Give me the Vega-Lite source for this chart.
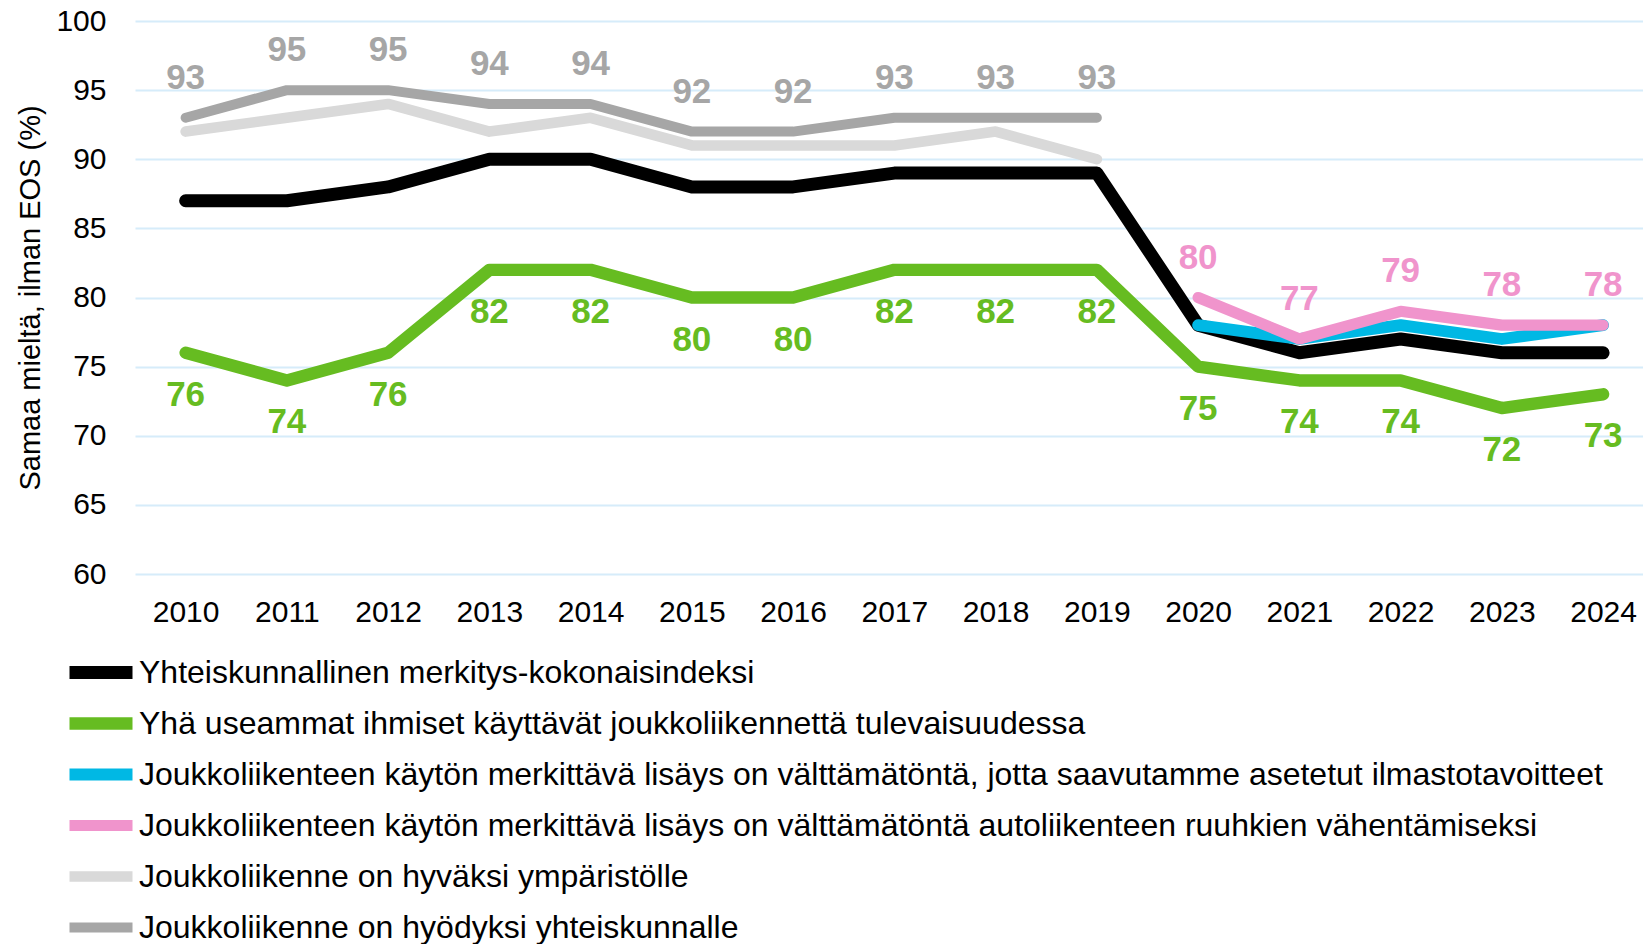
{
  "$schema": "https://vega.github.io/schema/vega-lite/v6.json",
  "width": 1508,
  "height": 553,
  "autosize": {"type": "none"},
  "padding": {"left": 135, "top": 21, "right": 0, "bottom": 370},
  "background": "white",
  "config": {
    "font": "Liberation Sans",
    "view": {"stroke": null}
  },
  "data": {
    "values": [
      {"s": "Yhteiskunnallinen merkitys-kokonaisindeksi", "year": 2010, "v": 87},
      {"s": "Yhteiskunnallinen merkitys-kokonaisindeksi", "year": 2011, "v": 87},
      {"s": "Yhteiskunnallinen merkitys-kokonaisindeksi", "year": 2012, "v": 88},
      {"s": "Yhteiskunnallinen merkitys-kokonaisindeksi", "year": 2013, "v": 90},
      {"s": "Yhteiskunnallinen merkitys-kokonaisindeksi", "year": 2014, "v": 90},
      {"s": "Yhteiskunnallinen merkitys-kokonaisindeksi", "year": 2015, "v": 88},
      {"s": "Yhteiskunnallinen merkitys-kokonaisindeksi", "year": 2016, "v": 88},
      {"s": "Yhteiskunnallinen merkitys-kokonaisindeksi", "year": 2017, "v": 89},
      {"s": "Yhteiskunnallinen merkitys-kokonaisindeksi", "year": 2018, "v": 89},
      {"s": "Yhteiskunnallinen merkitys-kokonaisindeksi", "year": 2019, "v": 89},
      {"s": "Yhteiskunnallinen merkitys-kokonaisindeksi", "year": 2020, "v": 78},
      {"s": "Yhteiskunnallinen merkitys-kokonaisindeksi", "year": 2021, "v": 76},
      {"s": "Yhteiskunnallinen merkitys-kokonaisindeksi", "year": 2022, "v": 77},
      {"s": "Yhteiskunnallinen merkitys-kokonaisindeksi", "year": 2023, "v": 76},
      {"s": "Yhteiskunnallinen merkitys-kokonaisindeksi", "year": 2024, "v": 76},
      {"s": "Yhä useammat ihmiset käyttävät joukkoliikennettä tulevaisuudessa", "year": 2010, "v": 76},
      {"s": "Yhä useammat ihmiset käyttävät joukkoliikennettä tulevaisuudessa", "year": 2011, "v": 74},
      {"s": "Yhä useammat ihmiset käyttävät joukkoliikennettä tulevaisuudessa", "year": 2012, "v": 76},
      {"s": "Yhä useammat ihmiset käyttävät joukkoliikennettä tulevaisuudessa", "year": 2013, "v": 82},
      {"s": "Yhä useammat ihmiset käyttävät joukkoliikennettä tulevaisuudessa", "year": 2014, "v": 82},
      {"s": "Yhä useammat ihmiset käyttävät joukkoliikennettä tulevaisuudessa", "year": 2015, "v": 80},
      {"s": "Yhä useammat ihmiset käyttävät joukkoliikennettä tulevaisuudessa", "year": 2016, "v": 80},
      {"s": "Yhä useammat ihmiset käyttävät joukkoliikennettä tulevaisuudessa", "year": 2017, "v": 82},
      {"s": "Yhä useammat ihmiset käyttävät joukkoliikennettä tulevaisuudessa", "year": 2018, "v": 82},
      {"s": "Yhä useammat ihmiset käyttävät joukkoliikennettä tulevaisuudessa", "year": 2019, "v": 82},
      {"s": "Yhä useammat ihmiset käyttävät joukkoliikennettä tulevaisuudessa", "year": 2020, "v": 75},
      {"s": "Yhä useammat ihmiset käyttävät joukkoliikennettä tulevaisuudessa", "year": 2021, "v": 74},
      {"s": "Yhä useammat ihmiset käyttävät joukkoliikennettä tulevaisuudessa", "year": 2022, "v": 74},
      {"s": "Yhä useammat ihmiset käyttävät joukkoliikennettä tulevaisuudessa", "year": 2023, "v": 72},
      {"s": "Yhä useammat ihmiset käyttävät joukkoliikennettä tulevaisuudessa", "year": 2024, "v": 73},
      {"s": "Joukkoliikenteen käytön merkittävä lisäys on välttämätöntä, jotta saavutamme asetetut ilmastotavoitteet", "year": 2020, "v": 78},
      {"s": "Joukkoliikenteen käytön merkittävä lisäys on välttämätöntä, jotta saavutamme asetetut ilmastotavoitteet", "year": 2021, "v": 77},
      {"s": "Joukkoliikenteen käytön merkittävä lisäys on välttämätöntä, jotta saavutamme asetetut ilmastotavoitteet", "year": 2022, "v": 78},
      {"s": "Joukkoliikenteen käytön merkittävä lisäys on välttämätöntä, jotta saavutamme asetetut ilmastotavoitteet", "year": 2023, "v": 77},
      {"s": "Joukkoliikenteen käytön merkittävä lisäys on välttämätöntä, jotta saavutamme asetetut ilmastotavoitteet", "year": 2024, "v": 78},
      {"s": "Joukkoliikenteen käytön merkittävä lisäys on välttämätöntä autoliikenteen ruuhkien vähentämiseksi", "year": 2020, "v": 80},
      {"s": "Joukkoliikenteen käytön merkittävä lisäys on välttämätöntä autoliikenteen ruuhkien vähentämiseksi", "year": 2021, "v": 77},
      {"s": "Joukkoliikenteen käytön merkittävä lisäys on välttämätöntä autoliikenteen ruuhkien vähentämiseksi", "year": 2022, "v": 79},
      {"s": "Joukkoliikenteen käytön merkittävä lisäys on välttämätöntä autoliikenteen ruuhkien vähentämiseksi", "year": 2023, "v": 78},
      {"s": "Joukkoliikenteen käytön merkittävä lisäys on välttämätöntä autoliikenteen ruuhkien vähentämiseksi", "year": 2024, "v": 78},
      {"s": "Joukkoliikenne on hyväksi ympäristölle", "year": 2010, "v": 92},
      {"s": "Joukkoliikenne on hyväksi ympäristölle", "year": 2011, "v": 93},
      {"s": "Joukkoliikenne on hyväksi ympäristölle", "year": 2012, "v": 94},
      {"s": "Joukkoliikenne on hyväksi ympäristölle", "year": 2013, "v": 92},
      {"s": "Joukkoliikenne on hyväksi ympäristölle", "year": 2014, "v": 93},
      {"s": "Joukkoliikenne on hyväksi ympäristölle", "year": 2015, "v": 91},
      {"s": "Joukkoliikenne on hyväksi ympäristölle", "year": 2016, "v": 91},
      {"s": "Joukkoliikenne on hyväksi ympäristölle", "year": 2017, "v": 91},
      {"s": "Joukkoliikenne on hyväksi ympäristölle", "year": 2018, "v": 92},
      {"s": "Joukkoliikenne on hyväksi ympäristölle", "year": 2019, "v": 90},
      {"s": "Joukkoliikenne on hyödyksi yhteiskunnalle", "year": 2010, "v": 93},
      {"s": "Joukkoliikenne on hyödyksi yhteiskunnalle", "year": 2011, "v": 95},
      {"s": "Joukkoliikenne on hyödyksi yhteiskunnalle", "year": 2012, "v": 95},
      {"s": "Joukkoliikenne on hyödyksi yhteiskunnalle", "year": 2013, "v": 94},
      {"s": "Joukkoliikenne on hyödyksi yhteiskunnalle", "year": 2014, "v": 94},
      {"s": "Joukkoliikenne on hyödyksi yhteiskunnalle", "year": 2015, "v": 92},
      {"s": "Joukkoliikenne on hyödyksi yhteiskunnalle", "year": 2016, "v": 92},
      {"s": "Joukkoliikenne on hyödyksi yhteiskunnalle", "year": 2017, "v": 93},
      {"s": "Joukkoliikenne on hyödyksi yhteiskunnalle", "year": 2018, "v": 93},
      {"s": "Joukkoliikenne on hyödyksi yhteiskunnalle", "year": 2019, "v": 93}
    ]
  },
  "encoding": {
    "x": {
      "field": "year",
      "type": "quantitative",
      "scale": {"domain": [2009.5, 2024.394], "nice": false, "zero": false},
      "axis": {
        "values": [2010, 2011, 2012, 2013, 2014, 2015, 2016, 2017, 2018, 2019, 2020, 2021, 2022, 2023, 2024],
        "format": "d",
        "title": null,
        "grid": false,
        "domain": false,
        "ticks": false,
        "labelFontSize": 30,
        "labelColor": "#000000",
        "labelPadding": 23,
        "labelFlush": false,
        "labelOverlap": false
      }
    },
    "y": {
      "field": "v",
      "type": "quantitative",
      "scale": {"domain": [60, 100], "nice": false, "zero": false},
      "axis": {
        "values": [60, 65, 70, 75, 80, 85, 90, 95, 100],
        "title": "Samaa mieltä, ilman EOS (%)",
        "titleFontSize": 29,
        "titleFontWeight": "normal",
        "titleColor": "#000000",
        "titlePadding": 10,
        "grid": true,
        "gridColor": "#D6ECFA",
        "gridWidth": 2,
        "domain": false,
        "ticks": false,
        "labelFontSize": 30,
        "labelColor": "#000000",
        "labelPadding": 29
      }
    }
  },
  "layer": [
    {
      "mark": {"type": "line", "strokeJoin": "round", "strokeCap": "round"},
      "encoding": {
        "color": {
          "field": "s",
          "type": "nominal",
          "scale": {
            "domain": [
              "Yhteiskunnallinen merkitys-kokonaisindeksi",
              "Yhä useammat ihmiset käyttävät joukkoliikennettä tulevaisuudessa",
              "Joukkoliikenteen käytön merkittävä lisäys on välttämätöntä, jotta saavutamme asetetut ilmastotavoitteet",
              "Joukkoliikenteen käytön merkittävä lisäys on välttämätöntä autoliikenteen ruuhkien vähentämiseksi",
              "Joukkoliikenne on hyväksi ympäristölle",
              "Joukkoliikenne on hyödyksi yhteiskunnalle"
            ],
            "range": ["#000000", "#66BC21", "#00B8E4", "#F094CC", "#D9D9D9", "#A6A6A6"]
          },
          "legend": {
            "orient": "none",
            "legendX": -72,
            "legendY": 626,
            "title": null,
            "symbolType": "stroke",
            "symbolSize": 3969,
            "symbolStrokeWidth": 13,
            "labelFontSize": 32,
            "labelColor": "#000000",
            "labelOffset": 0,
            "labelLimit": 2000,
            "clipHeight": 51,
            "rowPadding": 0,
            "direction": "vertical"
          }
        },
        "strokeWidth": {
          "field": "s",
          "type": "nominal",
          "scale": {
            "domain": [
              "Yhteiskunnallinen merkitys-kokonaisindeksi",
              "Yhä useammat ihmiset käyttävät joukkoliikennettä tulevaisuudessa",
              "Joukkoliikenteen käytön merkittävä lisäys on välttämätöntä, jotta saavutamme asetetut ilmastotavoitteet",
              "Joukkoliikenteen käytön merkittävä lisäys on välttämätöntä autoliikenteen ruuhkien vähentämiseksi",
              "Joukkoliikenne on hyväksi ympäristölle",
              "Joukkoliikenne on hyödyksi yhteiskunnalle"
            ],
            "range": [13, 10, 10, 10, 9, 9]
          },
          "legend": null
        }
      }
    },
    {
      "transform": [{"filter": "datum.s === 'Joukkoliikenne on hyödyksi yhteiskunnalle'"}],
      "mark": {"type": "text", "dy": -40, "fontSize": 35, "fontWeight": "bold", "color": "#A6A6A6"},
      "encoding": {"text": {"field": "v", "type": "quantitative"}}
    },
    {
      "transform": [{"filter": "datum.s === 'Yhä useammat ihmiset käyttävät joukkoliikennettä tulevaisuudessa'"}],
      "mark": {"type": "text", "dy": 42, "fontSize": 35, "fontWeight": "bold", "color": "#66BC21"},
      "encoding": {"text": {"field": "v", "type": "quantitative"}}
    },
    {
      "transform": [{"filter": "datum.s === 'Joukkoliikenteen käytön merkittävä lisäys on välttämätöntä autoliikenteen ruuhkien vähentämiseksi'"}],
      "mark": {"type": "text", "dy": -40, "fontSize": 35, "fontWeight": "bold", "color": "#F094CC"},
      "encoding": {"text": {"field": "v", "type": "quantitative"}}
    }
  ]
}
